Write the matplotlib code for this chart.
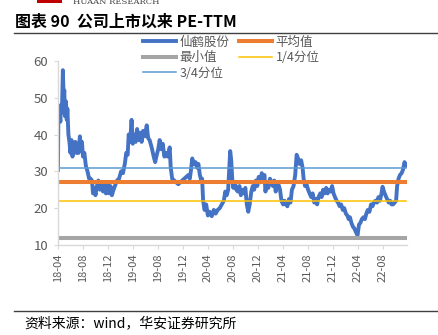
import numpy as np
import pandas as pd
import matplotlib
matplotlib.use("Agg")
import matplotlib.pyplot as plt
import matplotlib.dates as mdates
from matplotlib.patches import Rectangle

plt.rcParams['font.family'] = ['Noto Sans CJK SC', 'DejaVu Sans']

# PE-TTM of 仙鹤股份
dates = [
    '2018-04-01','2018-04-03','2018-04-08','2018-04-13','2018-04-15','2018-04-20','2018-04-22','2018-04-25','2018-04-29',
    '2018-05-02','2018-05-05','2018-05-10','2018-05-14','2018-05-17','2018-05-22','2018-05-27','2018-06-01','2018-06-06',
    '2018-06-11','2018-06-15','2018-06-20','2018-06-25','2018-06-30','2018-07-05','2018-07-10','2018-07-17','2018-07-22',
    '2018-07-27','2018-08-01','2018-08-08','2018-08-15','2018-08-23','2018-08-31','2018-09-07','2018-09-14','2018-09-19',
    '2018-09-26','2018-10-01','2018-10-08','2018-10-15','2018-10-23','2018-10-31','2018-11-07','2018-11-14','2018-11-21',
    '2018-11-28','2018-12-06','2018-12-13','2018-12-20','2018-12-28','2019-01-04','2019-01-14','2019-01-24','2019-02-03',
    '2019-02-12','2019-02-21','2019-02-28','2019-03-07','2019-03-12','2019-03-19','2019-03-26','2019-04-01','2019-04-08',
    '2019-04-15','2019-04-22','2019-04-30','2019-05-07','2019-05-14','2019-05-21','2019-05-29','2019-06-08','2019-06-15',
    '2019-06-22','2019-07-02','2019-07-12','2019-07-19','2019-07-27','2019-08-03','2019-08-10','2019-08-18','2019-08-25',
    '2019-09-02','2019-09-09','2019-09-18','2019-09-28','2019-10-03','2019-10-10','2019-10-20','2019-10-30','2019-11-09',
    '2019-11-18','2019-11-28','2019-12-08','2019-12-18','2019-12-28','2020-01-04','2020-01-09','2020-01-16','2020-01-24',
    '2020-02-01','2020-02-08','2020-02-15','2020-02-22','2020-02-29','2020-03-04','2020-03-09','2020-03-16','2020-03-24',
    '2020-04-01','2020-04-10','2020-04-20','2020-04-30','2020-05-09','2020-05-19','2020-05-29','2020-06-08','2020-06-18',
    '2020-06-25','2020-07-02','2020-07-09','2020-07-14','2020-07-19','2020-07-24','2020-07-29','2020-08-03','2020-08-10',
    '2020-08-18','2020-08-25','2020-09-02','2020-09-09','2020-09-16','2020-09-23','2020-10-01','2020-10-08','2020-10-15',
    '2020-10-22','2020-10-30','2020-11-06','2020-11-13','2020-11-21','2020-11-28','2020-12-05','2020-12-12','2020-12-20',
    '2020-12-27','2021-01-02','2021-01-07','2021-01-14','2021-01-21','2021-01-29','2021-02-05','2021-02-12','2021-02-19',
    '2021-02-26','2021-03-04','2021-03-11','2021-03-19','2021-03-26','2021-04-03','2021-04-10','2021-04-17','2021-04-24',
    '2021-05-02','2021-05-09','2021-05-16','2021-05-24','2021-06-01','2021-06-08','2021-06-15','2021-06-22','2021-06-30',
    '2021-07-07','2021-07-12','2021-07-19','2021-07-26','2021-08-03','2021-08-10','2021-08-18','2021-08-25','2021-09-02',
    '2021-09-09','2021-09-16','2021-09-23','2021-10-01','2021-10-08','2021-10-15','2021-10-22','2021-10-30','2021-11-06',
    '2021-11-13','2021-11-21','2021-11-28','2021-12-05','2021-12-12','2021-12-20','2021-12-27','2022-01-04','2022-01-11',
    '2022-01-19','2022-01-26','2022-02-03','2022-02-10','2022-02-17','2022-02-23','2022-03-02','2022-03-09','2022-03-16',
    '2022-03-24','2022-04-01','2022-04-08','2022-04-15','2022-04-22','2022-04-30','2022-05-07','2022-05-14','2022-05-21',
    '2022-05-29','2022-06-06','2022-06-13','2022-06-20','2022-06-27','2022-07-05','2022-07-12','2022-07-19','2022-07-27',
    '2022-08-01','2022-08-08','2022-08-15','2022-08-23','2022-08-31','2022-09-07','2022-09-14','2022-09-21','2022-09-29',
    '2022-10-06','2022-10-11','2022-10-18','2022-10-25','2022-11-02','2022-11-09','2022-11-16','2022-11-24',
]
pe = [
    30.4, 44, 46, 43.5, 48, 46, 50, 57.5, 50,
    52, 45, 49, 44, 47, 40, 38, 35, 38.5,
    34, 37, 35.5, 38, 35, 37.5, 35, 39.5, 36,
    38, 34, 35, 31.5, 30, 28, 28, 27.5, 24,
    25.5, 23.5, 26, 27.5, 25, 27, 24.5, 26.5, 24,
    26.5, 24, 26, 23.5, 25, 26, 27.5, 28, 30,
    29.5, 32, 35, 34.5, 40, 38, 44, 37.5, 40,
    38, 41.5, 38.5, 40.5, 38, 41, 39.5, 42.5, 39,
    38.5, 36.5, 34, 32.5, 34.5, 36, 38.5, 36, 37.5,
    34, 35, 34, 36.5, 31, 28, 27.5, 27, 26.5,
    27, 27.5, 28, 28.5, 29, 28, 30, 33.5, 32,
    32.5, 31, 32, 29, 27.5, 28, 22, 19.5, 21,
    18, 19, 17.8, 19.5, 18.5, 19.5, 20, 21, 22,
    24.5, 23.5, 25, 30, 35.5, 33, 28, 25.5, 27,
    25, 24.5, 26, 23.5, 25, 24, 25.5, 21, 19,
    21, 24.5, 26, 25, 27.5, 26, 28.5, 27, 29.5,
    27.5, 29, 24.5, 27, 25.5, 28, 27, 26, 27.5,
    24.5, 27, 26.5, 25, 22, 21, 22, 21, 20.5,
    22.5, 21.5, 25, 26, 29, 34.5, 33.5, 32, 33,
    31, 28, 26, 26.5, 25, 24, 23, 24, 21.5,
    22.5, 21, 23, 24, 23, 25, 24, 25.5, 24,
    25, 24.5, 26, 24, 23, 22, 21.5, 20.5, 21,
    19.5, 20, 18.5, 18, 17, 17.5, 16, 15, 14.5,
    13.5, 12.6, 15.5, 16, 17, 17.5, 17, 18.5, 19.5,
    19, 21, 20.5, 21.5, 22, 21.5, 23, 22, 24,
    25.8, 24.5, 23.5, 22.5, 21.5, 22, 21, 21, 21.5,
    22, 26, 28, 29, 29.5, 30.5, 32.5, 31.5,
]
pe_mean = 27.0
pe_min = 12.0
pe_q1 = 22.0
pe_q3 = 30.9

x = pd.to_datetime(dates)
n = len(x)

fig = plt.figure(figsize=(4.39, 3.35), dpi=100)
ax = fig.add_axes([0.132, 0.269, 0.795, 0.549])

l1, = ax.plot(x, pe, color='#4472C4', lw=2.8, label='仙鹤股份', solid_joinstyle='round')
l2, = ax.plot(x, [pe_mean] * n, color='#ED7D31', lw=2.9, label='平均值')
l3, = ax.plot(x, [pe_min] * n, color='#A5A5A5', lw=2.9, label='最小值')
l4, = ax.plot(x, [pe_q1] * n, color='#FFC000', lw=1.1, label='1/4分位')
l5, = ax.plot(x, [pe_q3] * n, color='#5B9BD5', lw=1.1, label='3/4分位')

ax.set_ylim(10, 60)
ax.set_yticks([10, 20, 30, 40, 50, 60])
ax.set_xlim(pd.Timestamp('2018-04-01'), pd.Timestamp('2022-11-28'))
ax.xaxis.set_major_locator(mdates.MonthLocator(bymonth=[4, 8, 12]))
ax.xaxis.set_major_formatter(mdates.DateFormatter('%y-%m'))
for s in ['top', 'right']:
    ax.spines[s].set_visible(False)
for s in ['left', 'bottom']:
    ax.spines[s].set_color('#D9D9D9')
    ax.spines[s].set_linewidth(1.0)
ax.tick_params(axis='y', colors='#D9D9D9', labelcolor='#595959', labelsize=9.5, length=3, pad=4)
ax.tick_params(axis='x', colors='#D9D9D9', labelcolor='#595959', labelsize=8, length=3,
               rotation=90, pad=3)

fig.legend(handles=[l1, l3, l5, l2, l4], ncol=2, frameon=False,
           loc='upper left', bbox_to_anchor=(0.326, 0.893), borderpad=0, borderaxespad=0,
           handlelength=2.6, handletextpad=0.3, columnspacing=0.8, labelspacing=0.2,
           prop={'size': 9}, labelcolor='#595959')

# page decoration
fig.text(0.034, 0.937, '图表 90  公司上市以来 PE-TTM', fontsize=11.5, fontweight='bold',
         color='#000000', va='center', ha='left')
fig.add_artist(plt.Line2D([0.032, 1.0], [0.901, 0.901], color='#404040', lw=1.0))
fig.add_artist(plt.Line2D([0.032, 1.0], [0.072, 0.072], color='#404040', lw=1.0))
fig.text(0.055, 0.036, '资料来源：wind，华安证券研究所', fontsize=10, color='#000000',
         va='center', ha='left')
fig.add_artist(Rectangle((0.084, 0.99), 0.058, 0.02, transform=fig.transFigure,
                         color='#C00000', lw=0))
fig.text(0.166, 0.993, 'HUAAN RESEARCH', fontsize=6, family='DejaVu Serif',
         color='#404040', va='center', ha='left')

fig.savefig('out.png', dpi=100)
